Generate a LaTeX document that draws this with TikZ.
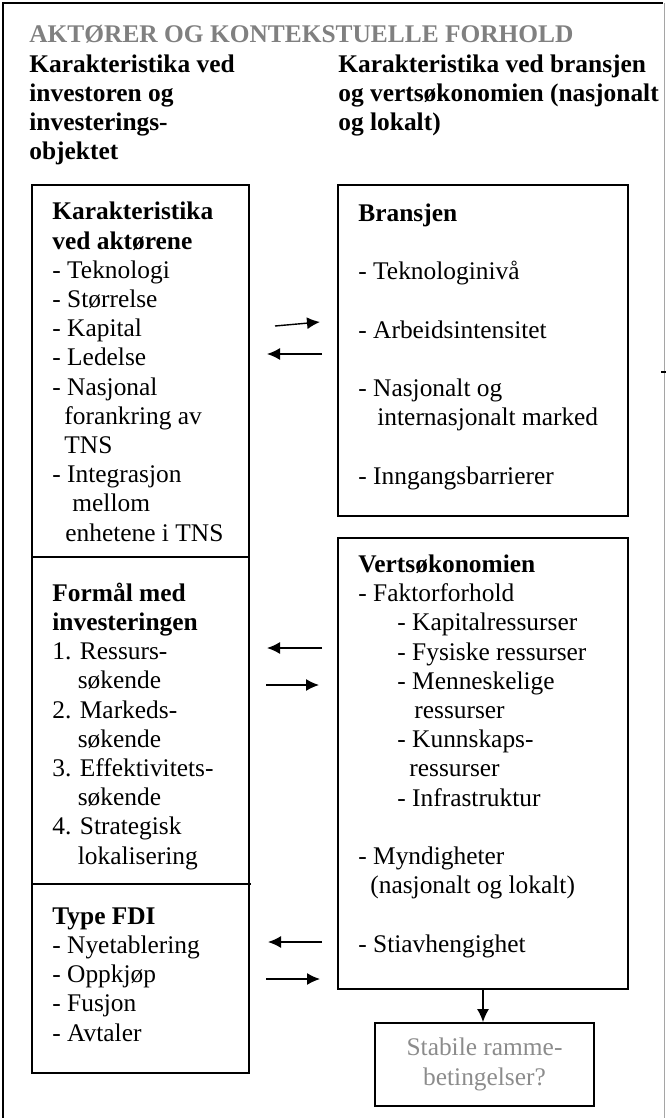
\documentclass[tikz,border=0pt]{standalone}
\usepackage{fontspec}
\setmainfont{Liberation Serif}
\usepackage{tikz}
\usetikzlibrary{arrows.meta}
\definecolor{titlegray}{RGB}{128,128,128}
\definecolor{framegray}{RGB}{165,165,165}
\definecolor{notegray}{RGB}{140,140,140}
\newcommand{\bodyfont}{\fontsize{12.7}{14.6}\selectfont}
\tikzstyle{box_normal} = [draw, line width=0.9pt, inner sep=0pt]
\tikzstyle{text_block} = [anchor=base west, align=left, inner sep=0pt, font=\bodyfont]
\tikzstyle{edge_arrow} = [line width=0.7pt, -{Latex[length=6.5pt,width=6pt]}]

\begin{document}
\begin{tikzpicture}[x=0.5pt, y=-0.5pt]
\useasboundingbox (0,0) rectangle (666,1118);
\draw[line width=0.9pt] (3,1118) -- (3,3) -- (663,3);
\draw[framegray, line width=0.6pt] (664.5,3) -- (664.5,1118);
\draw[line width=0.8pt] (661,372) -- (666,372);

\node (title) at (29,43) [text_block, text=titlegray, font=\bodyfont\bfseries] {AKTØRER OG KONTEKSTUELLE FORHOLD};
\node (investor_head) at (29,160) [text_block, font=\bodyfont\bfseries] {Karakteristika ved\\investoren og\\investerings-\\objektet};
\node (branch_head) at (338,131) [text_block, font=\bodyfont\bfseries] {Karakteristika ved bransjen\\og vertsøkonomien (nasjonalt\\og lokalt)};

\node (actors) at (140.5,629) [box_normal, minimum width=108.5pt, minimum height=444pt] {};
\draw[line width=0.9pt] (32,557) -- (249,557);
\draw[line width=0.9pt] (32,884) -- (251,884);
\node (branch) at (483,350.5) [box_normal, minimum width=145pt, minimum height=165.5pt] {};
\node (host) at (483,763.5) [box_normal, minimum width=145pt, minimum height=225.5pt] {};
\node (stable) at (484.5,1064.5) [box_normal, minimum width=109.5pt, minimum height=41.5pt, text=notegray, align=center, font=\bodyfont] {Stabile ramme-\\betingelser?};

\node (actors_text) at (52,541) [text_block] {\textbf{Karakteristika}\\\textbf{ved aktørene}\\- Teknologi\\- Størrelse\\- Kapital\\- Ledelse\\- Nasjonal\\\hspace*{6pt}forankring av\\\hspace*{6pt}TNS\\- Integrasjon\\\hspace*{10pt}mellom\\\hspace*{6.5pt}enhetene i TNS};
\node (purpose_text) at (52,864) [text_block] {\textbf{Formål med}\\\textbf{investeringen}\\1. Ressurs-\\\hspace*{12.7pt}søkende\\2. Markeds-\\\hspace*{12.7pt}søkende\\3. Effektivitets-\\\hspace*{12.7pt}søkende\\4. Strategisk\\\hspace*{12.7pt}lokalisering};
\node (fdi_text) at (52,1041) [text_block] {\textbf{Type FDI}\\- Nyetablering\\- Oppkjøp\\- Fusjon\\- Avtaler};
\node (branch_text) at (358,484) [text_block] {\textbf{Bransjen}\\\mbox{}\\- Teknologinivå\\\mbox{}\\- Arbeidsintensitet\\\mbox{}\\- Nasjonalt og\\\hspace*{9.5pt}internasjonalt marked\\\mbox{}\\- Inngangsbarrierer};
\node (host_text) at (358,952) [text_block] {\textbf{Vertsøkonomien}\\- Faktorforhold\\\hspace*{19.5pt}- Kapitalressurser\\\hspace*{19.5pt}- Fysiske ressurser\\\hspace*{19.5pt}- Menneskelige\\\hspace*{28pt}ressurser\\\hspace*{19.5pt}- Kunnskaps-\\\hspace*{25.5pt}ressurser\\\hspace*{19.5pt}- Infrastruktur\\\mbox{}\\- Myndigheter\\\hspace*{6pt}(nasjonalt og lokalt)\\\mbox{}\\- Stiavhengighet};

\coordinate (a1) at (275,326);
\coordinate (b1) at (320,322);
\coordinate (a2) at (322,354);
\coordinate (b2) at (267,354);
\coordinate (a3) at (322,648);
\coordinate (b3) at (267,648);
\coordinate (a4) at (266,685);
\coordinate (b4) at (319,685);
\coordinate (a5) at (322,942);
\coordinate (b5) at (268,942);
\coordinate (a6) at (266,979);
\coordinate (b6) at (320,979);
\draw[edge_arrow] (a1)--(b1);
\draw[edge_arrow] (a2)--(b2);
\draw[edge_arrow] (a3)--(b3);
\draw[edge_arrow] (a4)--(b4);
\draw[edge_arrow] (a5)--(b5);
\draw[edge_arrow] (a6)--(b6);
\draw[edge_arrow] (host.south)--(host.south |- stable.north);
\end{tikzpicture}
\end{document}
